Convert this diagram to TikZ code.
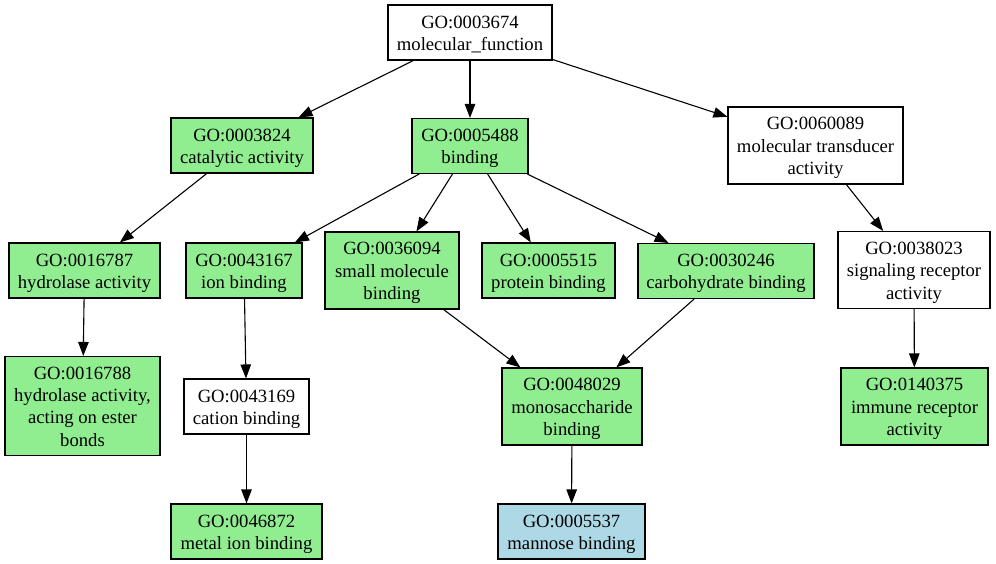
\documentclass[tikz,border=0pt]{standalone}
\usepackage{fontspec}
\setmainfont{Liberation Serif}
\usetikzlibrary{arrows.meta}
\definecolor{termgreen}{HTML}{90EE90}
\definecolor{termblue}{HTML}{ADD8E6}
% struts giving every label the same line box above the first and below the last baseline
\newcommand\firstln{\rule{0pt}{18pt}}
\newcommand\lastln{\rule[-4.5pt]{0pt}{4.5pt}}
\tikzset{
  term/.style={draw=black, line width=1.1pt, rectangle, align=center, inner sep=0pt,
    font=\fontsize{18.67}{22.4}\selectfont},
  plain/.style={term, fill=white},
  hit/.style={term, fill=termgreen},
  query/.style={term, fill=termblue},
  edge/.style={line width=1.1pt, -{Triangle[length=14pt,width=10.5pt]}}
}
\begin{document}
\begin{tikzpicture}[x=1pt,y=-1pt]
\fill[white] (0,0) rectangle (996,564);
\path[use as bounding box] (0,0) rectangle (996,564);

% level 0
\node[plain, minimum width=164pt, minimum height=55pt] (mf) at (470,32.5) {\firstln GO:0003674\\molecular\_function\lastln};

% level 1
\node[hit, minimum width=142pt, minimum height=55pt] (cat) at (242,145.5) {\firstln GO:0003824\\catalytic activity\lastln};
\node[hit, minimum width=116pt, minimum height=55pt] (bind) at (470,146) {\firstln GO:0005488\\binding\lastln};
\node[plain, minimum width=175pt, minimum height=77pt] (trans) at (815.5,145.5) {\firstln GO:0060089\\molecular transducer\\activity\lastln};

% level 2
\node[hit, minimum width=151pt, minimum height=55pt] (hyd) at (84.5,270.5) {\firstln GO:0016787\\hydrolase activity\lastln};
\node[hit, minimum width=116pt, minimum height=55pt] (ion) at (244,270.5) {\firstln GO:0043167\\ion binding\lastln};
\node[hit, minimum width=134pt, minimum height=77pt] (small) at (392,270.5) {\firstln GO:0036094\\small molecule\\binding\lastln};
\node[hit, minimum width=133pt, minimum height=55pt] (prot) at (548.5,270.5) {\firstln GO:0005515\\protein binding\lastln};
\node[hit, minimum width=176pt, minimum height=55pt] (carb) at (726,271) {\firstln GO:0030246\\carbohydrate binding\lastln};
\node[plain, minimum width=152pt, minimum height=77pt] (sig) at (914,270) {\firstln GO:0038023\\signaling receptor\\activity\lastln};

% level 3
\node[hit, minimum width=155pt, minimum height=99pt] (ester) at (82.5,406) {\firstln GO:0016788\\hydrolase activity,\\acting on ester\\bonds\lastln};
\node[plain, minimum width=125pt, minimum height=55pt] (cation) at (246.5,406.5) {\firstln GO:0043169\\cation binding\lastln};
\node[hit, minimum width=140pt, minimum height=77pt] (mono) at (572,406.5) {\firstln GO:0048029\\monosaccharide\\binding\lastln};
\node[hit, minimum width=147pt, minimum height=77pt] (imm) at (914.5,406.5) {\firstln GO:0140375\\immune receptor\\activity\lastln};

% level 4
\node[hit, minimum width=151pt, minimum height=55pt] (metal) at (246.5,531.5) {\firstln GO:0046872\\metal ion binding\lastln};
\node[query, minimum width=147pt, minimum height=55pt] (mann) at (571.5,531.5) {\firstln GO:0005537\\mannose binding\lastln};

% is-a relations
\draw[edge] (mf) -- (cat);
\draw[edge] (mf) -- (bind);
\draw[edge] (mf) -- (trans);
\draw[edge] (cat) -- (hyd);
\draw[edge] (bind) -- (ion);
\draw[edge] (bind) -- (small);
\draw[edge] (bind) -- (prot);
\draw[edge] (bind) -- (carb);
\draw[edge] (trans) -- (sig);
\draw[edge] (hyd) -- (ester);
\draw[edge] (ion) -- (cation);
\draw[edge] (small) -- (mono);
\draw[edge] (carb) -- (mono);
\draw[edge] (sig) -- (imm);
\draw[edge] (cation) -- (metal);
\draw[edge] (mono) -- (mann);
\end{tikzpicture}
\end{document}
